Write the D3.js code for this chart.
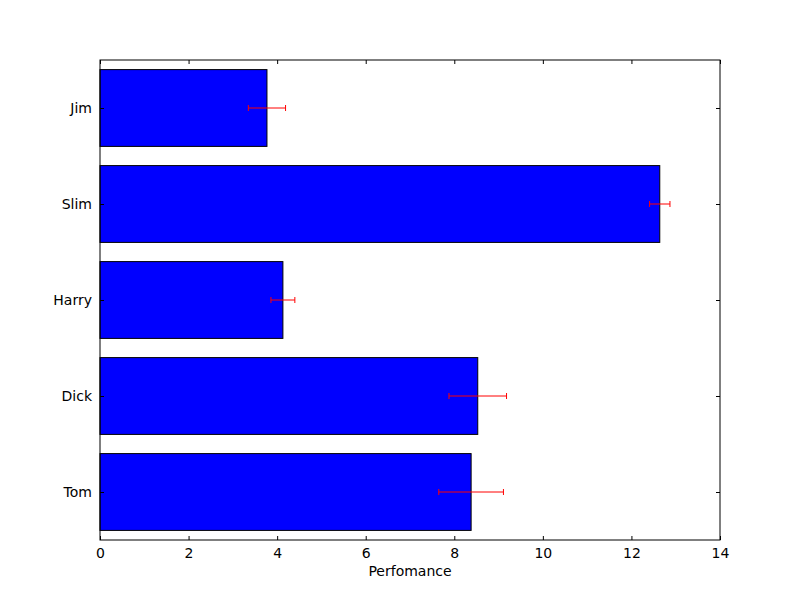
<!DOCTYPE html>
<html><head><meta charset="utf-8">
<script src="https://cdn.jsdelivr.net/npm/d3@7"></script>
<style>body{margin:0;background:#fff}text{font-family:"DejaVu Sans",sans-serif;font-size:14px}</style>
</head><body><svg id="c" width="800" height="600"></svg>
<script>
const people = ["Tom","Dick","Harry","Slim","Jim"];
const performance = [8.38,8.53,4.13,12.64,3.77];
const errors = [0.73,0.65,0.27,0.23,0.42];
const xTicks = [0,2,4,6,8,10,12,14];

const svg = d3.select("#c");
const L=100,R=720,T=60,B=540;
const x = d3.scaleLinear().domain([0,14]).range([L,R]);
const y = d3.scaleLinear().domain([-0.5,4.5]).range([B,T]);
const bh = y(0)-y(0.8);

svg.selectAll("rect.bar").data(people).join("rect")
  .attr("x",x(0)).attr("y",(d,i)=>y(i)-bh/2)
  .attr("width",(d,i)=>x(performance[i])-x(0)).attr("height",bh)
  .attr("fill","#0000ff").attr("stroke","#000").attr("stroke-width",1);

const g = svg.append("g").attr("stroke","red").attr("stroke-width",1);
people.forEach((p,i)=>{
  const cy=y(i), x0=x(performance[i]-errors[i]), x1=x(performance[i]+errors[i]);
  g.append("line").attr("x1",x0).attr("x2",x1).attr("y1",cy).attr("y2",cy);
  g.append("line").attr("x1",x0).attr("x2",x0).attr("y1",cy-3).attr("y2",cy+3);
  g.append("line").attr("x1",x1).attr("x2",x1).attr("y1",cy-3).attr("y2",cy+3);
});

svg.append("rect").attr("x",L).attr("y",T).attr("width",R-L).attr("height",B-T)
  .attr("fill","none").attr("stroke","#000");

const xb = svg.append("g").attr("transform",`translate(0,${B})`)
  .call(d3.axisBottom(x).tickValues(xTicks).tickSizeInner(-4).tickSizeOuter(0).tickPadding(8));
xb.select(".domain").remove();
const xt = svg.append("g").attr("transform",`translate(0,${T})`)
  .call(d3.axisTop(x).tickValues(xTicks).tickSizeInner(-4).tickSizeOuter(0).tickFormat(""));
xt.select(".domain").remove();
const yl = svg.append("g").attr("transform",`translate(${L},0)`)
  .call(d3.axisLeft(y).tickValues([0,1,2,3,4]).tickFormat(i=>people[i]).tickSizeInner(-4).tickSizeOuter(0).tickPadding(8));
yl.select(".domain").remove();
const yr = svg.append("g").attr("transform",`translate(${R},0)`)
  .call(d3.axisRight(y).tickValues([0,1,2,3,4]).tickFormat("").tickSizeInner(-4).tickSizeOuter(0));
yr.select(".domain").remove();
svg.selectAll(".tick text").attr("fill","#000").style("font-size","14px").style("font-family","DejaVu Sans");
svg.selectAll(".tick line").attr("stroke","#000");

svg.append("text").attr("x",(L+R)/2).attr("y",576).attr("text-anchor","middle").text("Perfomance");
</script></body></html>
